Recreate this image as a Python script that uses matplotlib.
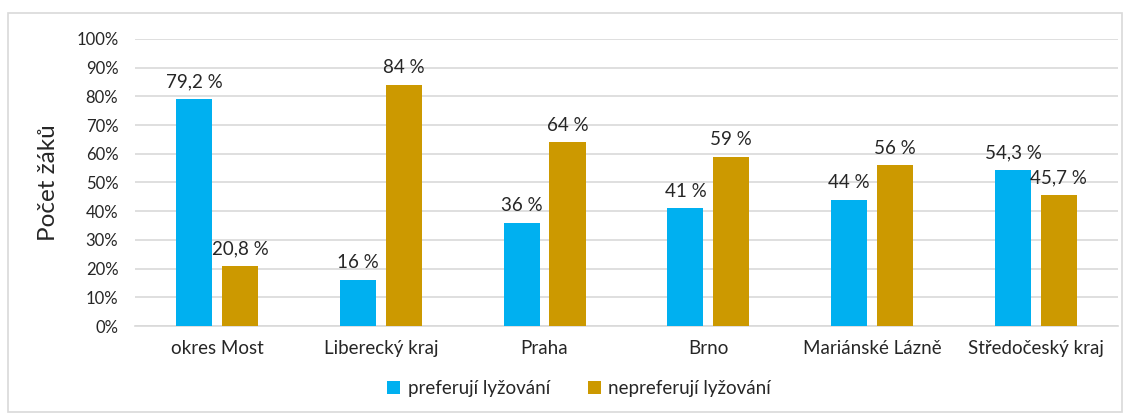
import matplotlib.pyplot as plt
import numpy as np
from matplotlib.patches import Rectangle

categories = ['okres Most', 'Liberecký kraj', 'Praha', 'Brno', 'Mariánské Lázně', 'Středočeský kraj']
prefer = [79.2, 16, 36, 41, 44, 54.3]
not_prefer = [20.8, 84, 64, 59, 56, 45.7]
prefer_labels = ['79,2 %', '16 %', '36 %', '41 %', '44 %', '54,3 %']
not_prefer_labels = ['20,8 %', '84 %', '64 %', '59 %', '56 %', '45,7 %']

plt.rcParams['font.family'] = ['Lato', 'DejaVu Sans']

fig = plt.figure(figsize=(11.31, 4.16), dpi=100)
ax = fig.add_axes([0.1194, 0.2163, 0.869, 0.690])

# light grey frame round the whole chart
fig.patches.append(Rectangle((8 / 1131, 4 / 416), 1114 / 1131, 399 / 416,
                             transform=fig.transFigure, fill=False,
                             edgecolor='#d9d9d9', linewidth=1.2))

x = np.arange(len(categories))
w = 0.22
off = 0.14
b1 = ax.bar(x - off, prefer, w, color='#00b0f0', label='preferují lyžování', zorder=3)
b2 = ax.bar(x + off, not_prefer, w, color='#cc9900', label='nepreferují lyžování', zorder=3)

for bars, labels in ((b1, prefer_labels), (b2, not_prefer_labels)):
    for bar, lab in zip(bars, labels):
        ax.text(bar.get_x() + bar.get_width() / 2, bar.get_height() + 3, lab,
                ha='center', va='bottom', fontsize=13.5, color='#262626')

ax.set_xlim(-0.5, len(categories) - 0.5)
ax.set_ylim(0, 100)
ax.set_yticks(range(0, 101, 10))
ax.set_yticklabels([f'{v}%' for v in range(0, 101, 10)])
ax.set_xticks(x)
ax.set_xticklabels(categories)
ax.tick_params(axis='both', length=0, labelsize=12, labelcolor='#262626')
ax.tick_params(axis='x', pad=10, labelsize=13.5)
ax.tick_params(axis='y', pad=12)
ax.grid(axis='y', color='#d9d9d9', linewidth=1.2, zorder=0)
for s in ('top', 'right', 'left'):
    ax.spines[s].set_visible(False)
ax.spines['bottom'].set_color('#d9d9d9')
ax.spines['bottom'].set_linewidth(1.2)

ax.set_ylabel('Počet žáků', fontsize=17.5, color='#262626', labelpad=12)

fig.legend(loc='center', bbox_to_anchor=(0.512, 0.065), ncol=2, frameon=False,
           fontsize=13.5, handlelength=0.7, handleheight=0.7, columnspacing=2.0,
           handletextpad=0.4, labelcolor='#262626')

fig.savefig('out.png', dpi=100)
